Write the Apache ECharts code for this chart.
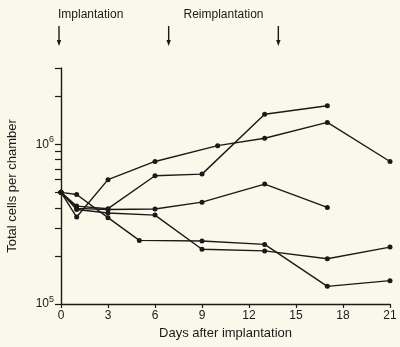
<!DOCTYPE html>
<html><head><meta charset="utf-8">
<script src="https://cdn.jsdelivr.net/npm/echarts@6/dist/echarts.min.js"></script>
<style>html,body{margin:0;padding:0;background:#faf7eb}#c{width:400px;height:347px}</style>
</head><body><div id="c"></div>
<script>
// ---- data (cells per chamber vs days after implantation) ----
const daysA = [0, 1, 3, 6, 9, 13, 17];
const valsA = [5.0e5, 4.1e5, 3.95e5, 6.35e5, 6.5e5, 1.54e6, 1.74e6];
const daysB = [0, 1, 3, 6, 10, 13, 17, 21];
const valsB = [5.0e5, 3.5e5, 6.0e5, 7.8e5, 9.8e5, 1.09e6, 1.37e6, 7.8e5];
const daysC = [0, 1, 3, 6, 9, 13, 17];
const valsC = [5.0e5, 3.97e5, 3.9e5, 3.93e5, 4.34e5, 5.63e5, 4.02e5];
const daysD = [0, 1, 3, 6, 9, 13, 17, 21];
const valsD = [5.0e5, 3.9e5, 3.71e5, 3.6e5, 2.2e5, 2.15e5, 1.92e5, 2.27e5];
const daysE = [0, 1, 3, 5, 9, 13, 17, 21];
const valsE = [5.0e5, 4.85e5, 3.47e5, 2.5e5, 2.48e5, 2.36e5, 1.29e5, 1.4e5];

const xTicks = [0, 3, 6, 9, 12, 15, 18, 21];
const yTickValues = [1e5, 2e5, 3e5, 4e5, 5e5, 6e5, 7e5, 8e5, 9e5, 1e6, 2e6, 3e6];
const yLabelValues = [1e5, 1e6];
const yMin = 1e5, yMax = 3e6;

const annotDays = [0, 7, 14];
const annotTexts = ['Implantation', 'Reimplantation'];
const xTitle = 'Days after implantation';
const yTitle = 'Total cells per chamber';

// ---- build ----
const L = Math.log10;
const FONT = '"Liberation Sans", Arial, sans-serif';
const INK = '#1b1a17';
function mk(days, vals) {
  return {
    type: 'line', data: days.map((d, i) => [d, L(vals[i])]),
    symbol: 'circle', symbolSize: 5, showSymbol: true,
    lineStyle: { color: INK, width: 1.4 }, itemStyle: { color: INK },
    silent: true, animation: false
  };
}
const chart = echarts.init(document.getElementById('c'), null, { renderer: 'canvas' });
chart.setOption({
  backgroundColor: '#faf7eb',
  animation: false,
  grid: { left: 61, right: 10, top: 68, bottom: 43, containLabel: false, outerBoundsMode: 'none' },
  xAxis: {
    type: 'value', min: xTicks[0], max: xTicks[xTicks.length - 1], interval: 3,
    name: xTitle, nameLocation: 'middle', nameGap: 22,
    nameTextStyle: { fontFamily: FONT, fontSize: 13, color: INK },
    axisLine: { lineStyle: { color: INK, width: 1.4 } },
    axisTick: { show: true, length: 4, lineStyle: { color: INK, width: 1.2 } },
    axisLabel: { fontFamily: FONT, fontSize: 12, color: INK, margin: 6 },
    splitLine: { show: false }
  },
  yAxis: {
    type: 'value', min: L(yMin), max: L(yMax),
    name: yTitle, nameLocation: 'middle', nameGap: 42,
    nameTextStyle: { fontFamily: FONT, fontSize: 13, color: INK },
    axisLine: { show: true, lineStyle: { color: INK, width: 1.4 } },
    axisTick: { show: true, length: 6, lineStyle: { color: INK, width: 1.2 },
      customValues: yTickValues.map(L) },
    axisLabel: {
      customValues: yLabelValues.map(L), margin: 7,
      formatter: v => '{b|10}{s|' + Math.round(v) + '}',
      rich: {
        b: { fontFamily: FONT, fontSize: 12, color: INK, lineHeight: 18 },
        s: { fontFamily: FONT, fontSize: 9, color: INK, verticalAlign: 'top' }
      }
    },
    splitLine: { show: false }
  },
  series: [mk(daysA, valsA), mk(daysB, valsB), mk(daysC, valsC), mk(daysD, valsD), mk(daysE, valsE)]
});

// annotations: arrows & labels above the plot
const ax = annotDays.map(d => chart.convertToPixel({ xAxisIndex: 0 }, d) - 2);
const arrowTop = 26, arrowBottom = 46;
const g = [];
ax.forEach(x => {
  g.push({ type: 'line', shape: { x1: x, y1: arrowTop, x2: x, y2: arrowBottom - 4 },
    style: { stroke: INK, lineWidth: 1.4 }, silent: true });
  g.push({ type: 'polygon', shape: { points: [[x - 2.2, arrowBottom - 6], [x + 2.2, arrowBottom - 6], [x, arrowBottom]] },
    style: { fill: INK }, silent: true });
});
g.push({ type: 'text', x: ax[0] - 1, y: 15, style: { text: annotTexts[0], fontFamily: FONT, fontSize: 12,
  fill: INK, textAlign: 'left', textVerticalAlign: 'middle' }, silent: true });
g.push({ type: 'text', x: (ax[1] + ax[2]) / 2, y: 15, style: { text: annotTexts[1], fontFamily: FONT, fontSize: 12,
  fill: INK, textAlign: 'center', textVerticalAlign: 'middle' }, silent: true });
chart.setOption({ graphic: g });
</script>
</body></html>
